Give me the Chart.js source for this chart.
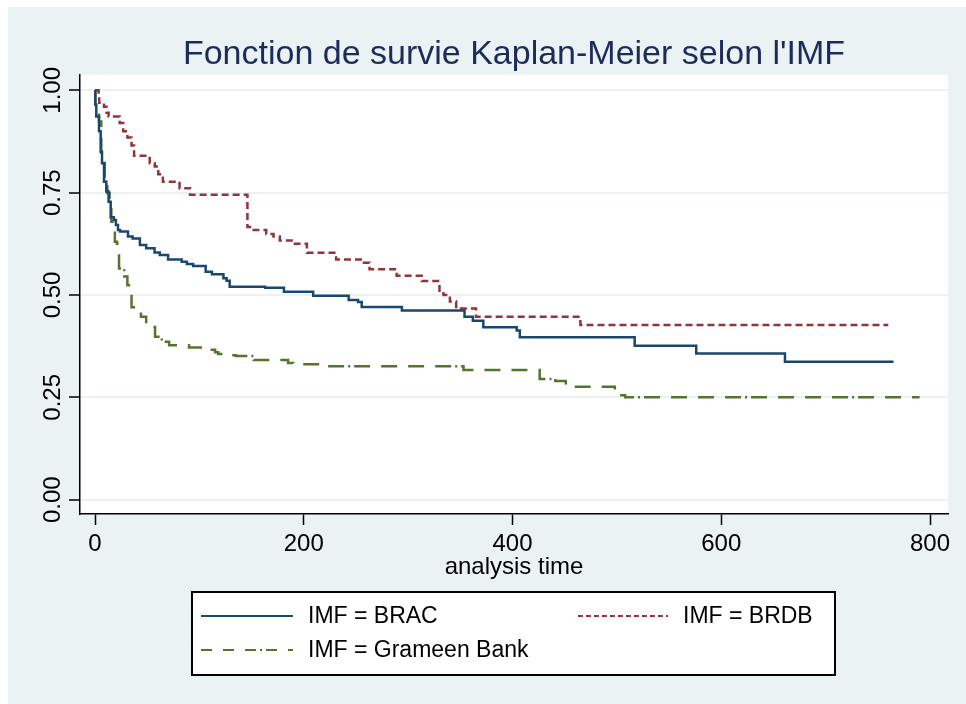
<!DOCTYPE html>
<html>
<head>
<meta charset="utf-8">
<script src="https://cdn.jsdelivr.net/npm/chart.js@4.4.1/dist/chart.umd.min.js"></script>
<style>
  html, body { margin: 0; padding: 0; background: #fff; }
  #wrap { width: 966px; height: 704px; }
</style>
</head>
<body>
<div id="wrap"><canvas id="kmChart" width="966" height="704"></canvas></div>
<script>
// Kaplan-Meier steps (time, survival)
var bracTime = [0, 0.3, 1.2, 3.8, 5.4, 6.7, 8.6, 10.8, 13, 15, 18, 20, 22, 24, 31.6, 36, 43, 49, 57, 62, 70, 83, 88, 94, 106, 112, 123, 126, 129, 163, 181, 209, 243, 252, 255.5, 294, 354, 362, 372, 404, 407, 517, 576, 661, 765];
var bracSurv = [1, 0.965, 0.936, 0.90, 0.85, 0.822, 0.777, 0.753, 0.728, 0.69, 0.683, 0.671, 0.659, 0.655, 0.643, 0.638, 0.622, 0.614, 0.604, 0.598, 0.587, 0.581, 0.576, 0.571, 0.557, 0.551, 0.541, 0.535, 0.52, 0.518, 0.508, 0.498, 0.488, 0.483, 0.471, 0.462, 0.447, 0.437, 0.421, 0.413, 0.397, 0.376, 0.357, 0.337, 0.337];

var brdbTime = [0, 3.5, 4, 8.6, 11, 13, 23.6, 27, 31, 35, 37.4, 52.4, 57.2, 60.6, 65, 81, 91, 146, 150, 164, 171, 177, 191.5, 203, 231, 256, 263, 289, 313, 330, 334, 340, 346, 365, 465, 760];
var brdbSurv = [1, 0.985, 0.97, 0.96, 0.945, 0.936, 0.92, 0.90, 0.885, 0.865, 0.84, 0.822, 0.814, 0.795, 0.777, 0.761, 0.745, 0.666, 0.659, 0.649, 0.643, 0.633, 0.625, 0.603, 0.587, 0.579, 0.563, 0.547, 0.534, 0.504, 0.50, 0.484, 0.467, 0.447, 0.427, 0.427];

var grameenTime = [0, 0.3, 3.8, 6, 9.3, 11.8, 14, 15.6, 19, 21, 23, 28, 31, 35, 39, 44, 49, 52.6, 57.5, 64, 71, 90, 108.5, 115, 118, 129, 135, 152, 185, 190, 217, 353, 426, 441, 451, 498, 503, 508, 790];
var grameenSurv = [1, 0.965, 0.924, 0.826, 0.777, 0.749, 0.732, 0.679, 0.63, 0.625, 0.565, 0.545, 0.524, 0.47, 0.465, 0.447, 0.431, 0.422, 0.398, 0.386, 0.377, 0.372, 0.366, 0.36, 0.356, 0.353, 0.351, 0.341, 0.334, 0.331, 0.326, 0.317, 0.295, 0.29, 0.276, 0.26, 0.255, 0.25, 0.25];

var seriesLabels = ['IMF = BRAC', 'IMF = BRDB', 'IMF = Grameen Bank'];
var xTickValues = [0, 200, 400, 600, 800];
var yTickValues = [0, 0.25, 0.5, 0.75, 1];
var yTickLabels = ['0.00', '0.25', '0.50', '0.75', '1.00'];

var bgColor = '#EAF2F3';

function toSteps(times, surv) {
    return times.map(function (t, i) { return { x: t, y: surv[i] }; });
}

// Stata-like background: light bluish region, white plot area
var backgroundPlugin = {
    id: 'stataBackground',
    beforeDraw: function (chart) {
        var ctx = chart.ctx, a = chart.chartArea;
        ctx.save();
        ctx.fillStyle = '#fff';
        ctx.fillRect(0, 0, chart.width, chart.height);
        ctx.fillStyle = bgColor;
        ctx.fillRect(8, 7, chart.width - 8, chart.height - 7);
        ctx.fillStyle = '#fff';
        ctx.fillRect(a.left, a.top, a.right - a.left, a.bottom - a.top);
        ctx.restore();
    }
};

// boxed legend below the x axis title, two columns
var legendPlugin = {
    id: 'stataLegend',
    afterDraw: function (chart) {
        var ctx = chart.ctx;
        var slots = [
            { x: 201, y: 616, w: 92, tx: 308 },
            { x: 578, y: 616, w: 90, tx: 683 },
            { x: 201, y: 650, w: 92, tx: 308 }
        ];
        ctx.save();
        ctx.fillStyle = '#fff';
        ctx.fillRect(192, 592, 643, 83);
        ctx.strokeStyle = '#000';
        ctx.lineWidth = 2;
        ctx.strokeRect(192, 592, 643, 83);
        ctx.font = '23px "Liberation Sans", Arial, sans-serif';
        ctx.textBaseline = 'middle';
        ctx.textAlign = 'left';
        chart.data.datasets.forEach(function (ds, i) {
            var s = slots[i];
            ctx.strokeStyle = ds.borderColor;
            ctx.lineWidth = 2;
            ctx.setLineDash(ds.legendDash);
            ctx.beginPath();
            ctx.moveTo(s.x, s.y);
            ctx.lineTo(s.x + s.w, s.y);
            ctx.stroke();
            ctx.setLineDash([]);
            ctx.fillStyle = '#000';
            ctx.fillText(ds.label, s.tx, s.y + 1);
        });
        ctx.restore();
    }
};

var ctx = document.getElementById('kmChart').getContext('2d');
Chart.defaults.font.family = '"Liberation Sans", Arial, sans-serif';
Chart.defaults.color = '#000';

new Chart(ctx, {
    type: 'line',
    data: {
        datasets: [{
            label: seriesLabels[0],
            data: toSteps(bracTime, bracSurv),
            borderColor: '#1A476F',
            borderDash: [],
            legendDash: [],
            borderWidth: 2.5
        }, {
            label: seriesLabels[1],
            data: toSteps(brdbTime, brdbSurv),
            borderColor: '#90353B',
            borderDash: [7, 4],
            legendDash: [5, 3],
            borderWidth: 2.5
        }, {
            label: seriesLabels[2],
            data: toSteps(grameenTime, grameenSurv),
            borderColor: '#55752F',
            borderDash: [16, 11, 16, 11, 16, 11, 16, 4, 2, 4],
            legendDash: [11, 11, 11, 11, 11, 4, 2, 4],
            borderWidth: 2.5
        }]
    },
    options: {
        responsive: false,
        animation: false,
        elements: {
            point: { radius: 0 },
            line: { stepped: true, tension: 0, fill: false, borderCapStyle: 'butt' }
        },
        layout: { padding: { top: 0, left: 8, right: 18, bottom: 120 } },
        plugins: {
            legend: { display: false },
            tooltip: { enabled: false },
            title: {
                display: true,
                text: 'Fonction de survie Kaplan-Meier selon l\'IMF',
                fullSize: false,
                color: '#1C2B5A',
                font: { size: 34, weight: 'normal' },
                padding: { top: 34, bottom: 0 }
            }
        },
        scales: {
            x: {
                type: 'linear',
                min: -14.4,
                max: 817.2,
                afterBuildTicks: function (scale) {
                    scale.ticks = xTickValues.map(function (v) { return { value: v }; });
                },
                afterFit: function (scale) { scale.height = 70; },
                grid: { drawOnChartArea: false, drawTicks: true, tickLength: 11, tickColor: '#000', tickWidth: 1.5 },
                border: { display: true, color: '#000', width: 1.5 },
                ticks: { font: { size: 24 }, padding: 5, maxRotation: 0 },
                title: {
                    display: true,
                    text: 'analysis time',
                    font: { size: 24 },
                    padding: { top: 0, bottom: 2 }
                }
            },
            y: {
                type: 'linear',
                min: -0.035,
                max: 1.038,
                afterBuildTicks: function (scale) {
                    scale.ticks = yTickValues.map(function (v) { return { value: v }; });
                },
                afterFit: function (scale) { scale.width = 72; },
                grid: { color: bgColor, lineWidth: 2, drawTicks: true, tickLength: 11, tickColor: '#000', tickWidth: 1.5 },
                border: { display: true, color: '#000', width: 1.5 },
                ticks: {
                    font: { size: 24 },
                    minRotation: 90,
                    maxRotation: 90,
                    crossAlign: 'center',
                    padding: -8,
                    callback: function (value) {
                        var i = yTickValues.indexOf(value);
                        return i >= 0 ? yTickLabels[i] : '';
                    }
                }
            }
        }
    },
    plugins: [backgroundPlugin, legendPlugin]
});
</script>
</body>
</html>
